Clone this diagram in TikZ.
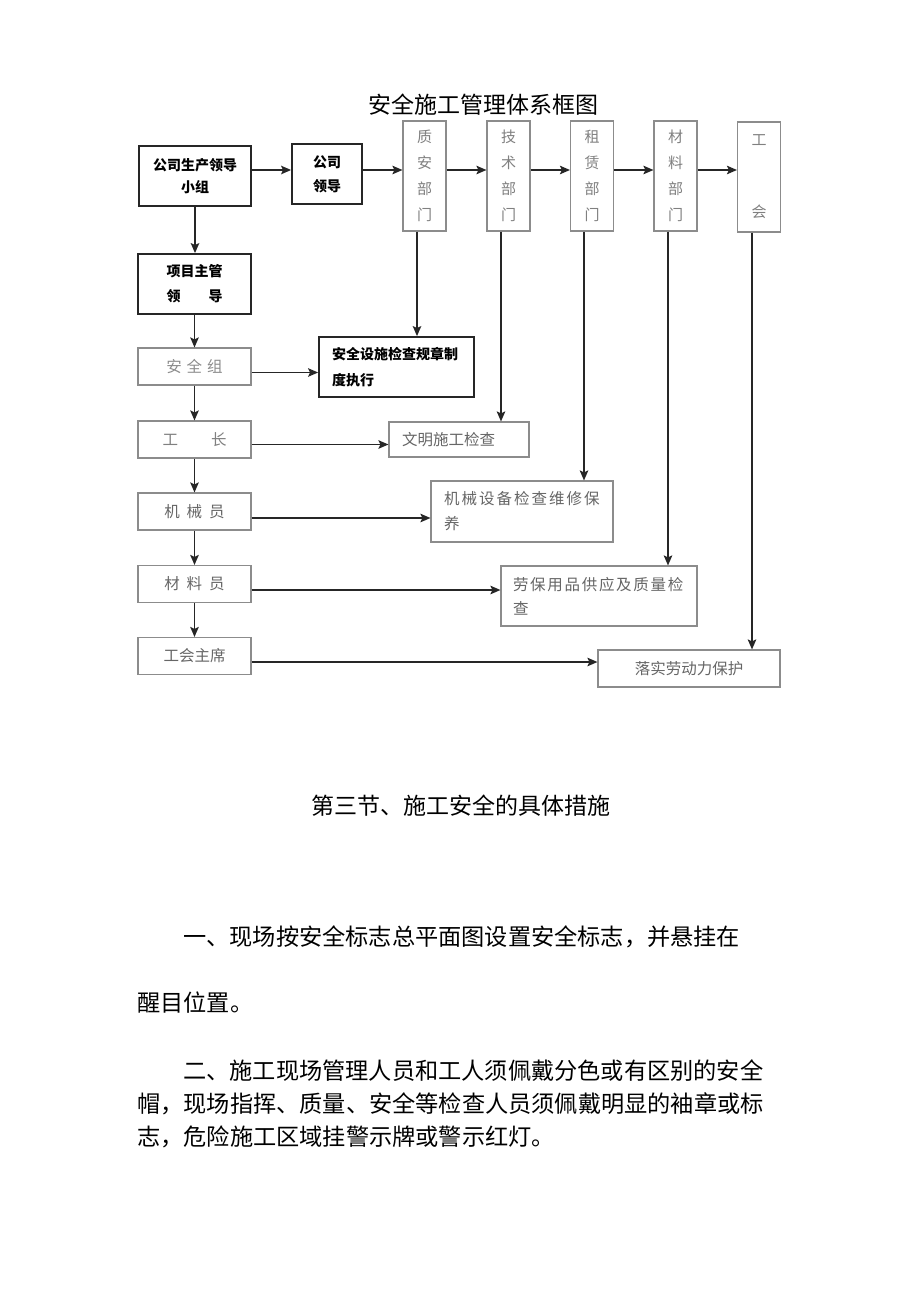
\documentclass[tikz,border=0pt]{standalone}
\usepackage{fontspec}
\newfontfamily\cjk{Noto Sans CJK SC}
\usetikzlibrary{arrows.meta,calc}
\makeatletter
\newcommand\lspaced[2]{\def\lsp@gap{#1}\mbox{\@tfor\lsp@c:=#2\do{\lsp@c\kern\lsp@gap}}}
\makeatother
\tikzset{
  boldbox/.style={draw=black!85, line width=1.8pt, inner sep=0pt, align=center,
    font=\cjk\bfseries\fontsize{14}{22}\selectfont},
  graybox/.style={draw=black!45, line width=1.1pt, inner sep=0pt, align=center,
    text=black!60, font=\cjk\fontsize{15.5}{26}\selectfont},
  deptbox/.style={graybox, minimum width=43pt, minimum height=110pt, text=black!50,
    font=\cjk\fontsize{15}{26}\selectfont},
  leftbox/.style={graybox, minimum width=113pt, minimum height=37pt},
  arr/.style={draw=black!85, line width=1.6pt, -{Stealth[length=10pt,width=8.5pt,inset=2pt]}},
  bodytext/.style={font=\cjk\fontsize{23.2}{28}\selectfont, inner sep=0pt, anchor=west},
}
\begin{document}
\begin{tikzpicture}[x=1pt,y=-1pt]
\fill[white] (0,0) rectangle (920,1301);
\useasboundingbox (0,0) rectangle (920,1301);

% title
\node[font=\cjk\fontsize{23}{28}\selectfont, inner sep=0pt] (title) at (483,105) {安全施工管理体系框图};

% top row
\node[boldbox, minimum width=112pt, minimum height=60pt] (gongsi) at (195,176) {公司生产领导\\小组};
\node[boldbox, minimum width=70pt, minimum height=60pt] (lingdao) at (327,174) {公司\\[2pt]领导};
\node[deptbox] (zhian) at (424.5,176) {质\\安\\部\\门};
\node[deptbox] (jishu) at (508.5,176) {技\\术\\部\\门};
\node[deptbox] (zulin) at (592,176) {租\\赁\\部\\门};
\node[deptbox] (cailiao) at (675.5,176) {材\\料\\部\\门};
\node[deptbox] (gonghui) at (759,177) {工\\[46pt]会};

\draw[arr] ([yshift=6pt]gongsi.east) -- ([yshift=6pt]gongsi.east -| lingdao.west);
\draw[arr] ([yshift=4pt]lingdao.east) -- ([yshift=4pt]lingdao.east -| zhian.west);
\draw[arr] ([yshift=6pt]zhian.east) -- ([yshift=6pt]zhian.east -| jishu.west);
\draw[arr] ([yshift=6pt]jishu.east) -- ([yshift=6pt]jishu.east -| zulin.west);
\draw[arr] ([yshift=6pt]zulin.east) -- ([yshift=6pt]zulin.east -| cailiao.west);
\draw[arr] ([yshift=6pt]cailiao.east) -- ([yshift=6pt]cailiao.east -| gonghui.west);

% left column
\node[boldbox, minimum width=113pt, minimum height=60pt] (xiangmu) at (194.5,284) {项目主管\\[3pt]领\hspace{2em}导};
\node[leftbox, text=black!45] (anquanzu) at (194.5,366.5) {安\hspace{5pt}全\hspace{5pt}组};
\node[leftbox, text=black!50] (gongzhang) at (194.5,439.5) {工\hspace{33pt}长};
\node[leftbox] (jixieyuan) at (194.5,511.5) {机\hspace{7pt}械\hspace{7pt}员};
\node[leftbox] (cailiaoyuan) at (194.5,584) {材\hspace{7pt}料\hspace{7pt}员};
\node[leftbox] (zhuxi) at (194.5,656) {工会主席};

\draw[arr] (gongsi.south) -- (gongsi.south |- xiangmu.north);
\draw[arr] (xiangmu.south) -- (anquanzu.north);
\draw[arr] (anquanzu.south) -- (gongzhang.north);
\draw[arr] (gongzhang.south) -- (jixieyuan.north);
\draw[arr] (jixieyuan.south) -- (cailiaoyuan.north);
\draw[arr] (cailiaoyuan.south) -- (zhuxi.north);

% right boxes
\node[boldbox, minimum width=155pt, minimum height=60pt, text width=129pt, align=left,
  font=\cjk\bfseries\fontsize{14}{26}\selectfont] (jiancha) at (396.5,367) {安全设施检查规章制\\度执行};
\node[graybox, minimum width=140pt, minimum height=35pt, text width=114pt, align=left] (wenming) at (459,439.5) {文明施工检查};
\node[graybox, minimum width=182pt, minimum height=61pt, text width=156pt, align=left,
  font=\cjk\fontsize{15.5}{25}\selectfont] (weixiu) at (522,511.5) {\lspaced{2pt}{机械设备检查维修保}\\养};
\node[graybox, minimum width=196pt, minimum height=60pt, text width=172pt, align=left,
  font=\cjk\fontsize{15.5}{24}\selectfont] (laobao) at (599,596) {\lspaced{1.7pt}{劳保用品供应及质量检}\\查};
\node[graybox, minimum width=182pt, minimum height=37pt] (luoshi) at (689,668.5) {落实劳动力保护};

\draw[arr] ([yshift=-6pt]anquanzu.east) -- ([yshift=-6pt]anquanzu.east -| jiancha.west);
\draw[arr] ([yshift=-5pt]gongzhang.east) -- ([yshift=-5pt]gongzhang.east -| wenming.west);
\draw[arr] ([yshift=-6.5pt]jixieyuan.east) -- ([yshift=-6.5pt]jixieyuan.east -| weixiu.west);
\draw[arr] ([yshift=-6pt]cailiaoyuan.east) -- ([yshift=-6pt]cailiaoyuan.east -| laobao.west);
\draw[arr] ([yshift=-6pt]zhuxi.east) -- ([yshift=-6pt]zhuxi.east -| luoshi.west);

\draw[arr] ([xshift=-7.5pt]zhian.south) -- ([xshift=-7.5pt]zhian.south |- jiancha.north);
\draw[arr] ([xshift=-7.5pt]jishu.south) -- ([xshift=-7.5pt]jishu.south |- wenming.north);
\draw[arr] ([xshift=-8pt]zulin.south) -- ([xshift=-8pt]zulin.south |- weixiu.north);
\draw[arr] ([xshift=-7.5pt]cailiao.south) -- ([xshift=-7.5pt]cailiao.south |- laobao.north);
\draw[arr] ([xshift=-7pt]gonghui.south) -- ([xshift=-7pt]gonghui.south |- luoshi.north);

% body text
\node[font=\cjk\fontsize{23}{28}\selectfont, inner sep=0pt] (jie) at (461,806) {第三节、施工安全的具体措施};
\node[bodytext] (p1a) at (183,937) {一、现场按安全标志总平面图设置安全标志，并悬挂在};
\node[bodytext] (p1b) at (137,1003) {醒目位置。};
\node[bodytext] (p2a) at (183,1071) {二、施工现场管理人员和工人须佩戴分色或有区别的安全};
\node[bodytext] (p2b) at (137,1104) {帽，现场指挥、质量、安全等检查人员须佩戴明显的袖章或标};
\node[bodytext] (p2c) at (137,1137) {志，危险施工区域挂警示牌或警示红灯。};
\end{tikzpicture}
\end{document}
